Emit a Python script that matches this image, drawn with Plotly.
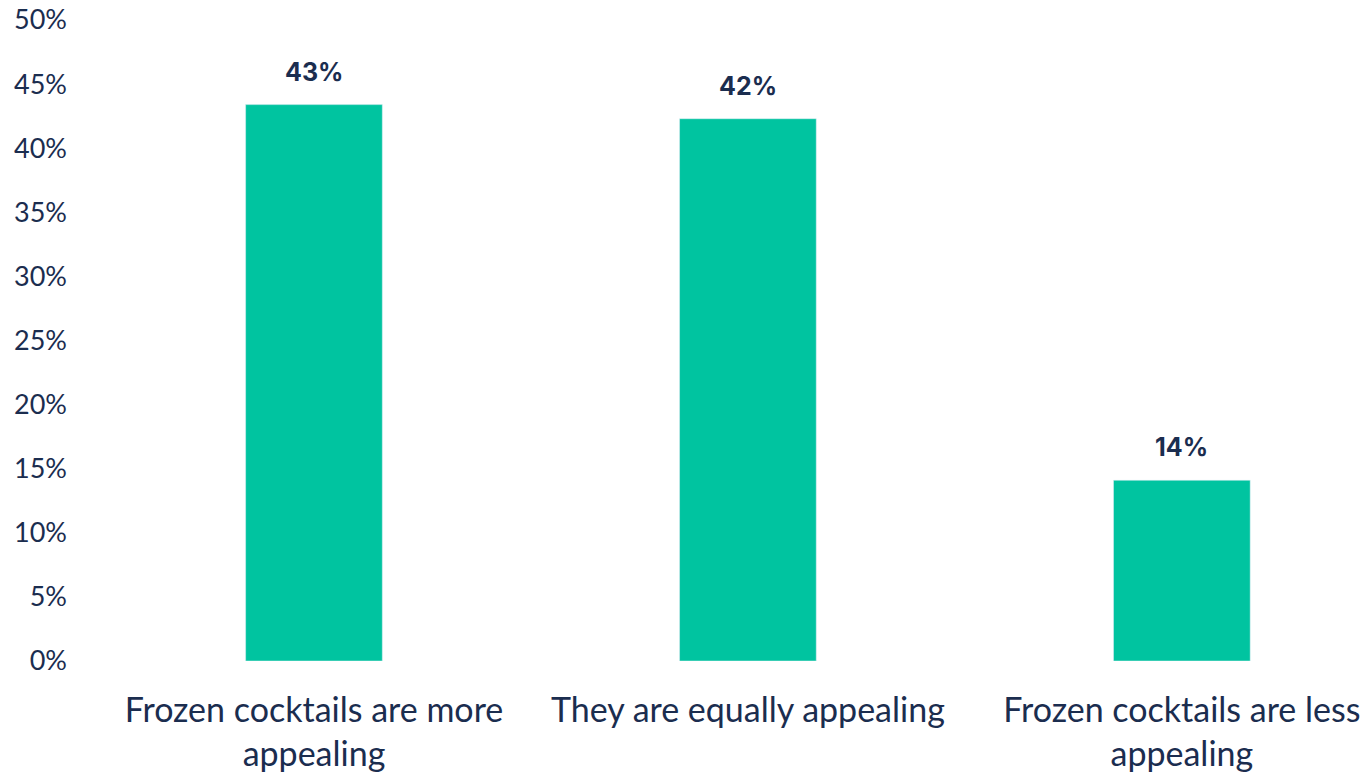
import plotly.graph_objects as go

categories = ["Frozen cocktails are more<br>appealing", "They are equally appealing", "Frozen cocktails are less<br>appealing"]
values = [43.4, 42.3, 14.1]
labels = ["43%", "42%", "14%"]
tick_vals = [0, 5, 10, 15, 20, 25, 30, 35, 40, 45, 50]
tick_text = [f"{v}%" for v in tick_vals]

navy = "#1b2d4f"
teal = "#00c4a0"

fig = go.Figure(go.Bar(x=[0, 1, 2], y=values, marker_color=teal, width=0.315, hoverinfo="skip"))

for i, (v, t) in enumerate(zip(values, labels)):
    fig.add_annotation(x=i, y=v, text=f"<b>{t}</b>", showarrow=False, yanchor="bottom", yshift=16,
                       font=dict(family="Inter", size=25, color=navy))

fig.update_layout(
    width=1368, height=774,
    margin=dict(l=97, r=0, t=20, b=113),
    paper_bgcolor="white", plot_bgcolor="white",
    showlegend=False,
    font=dict(family="Lato", color=navy),
    xaxis=dict(range=[-0.5, 2.429], tickmode="array", tickvals=[0, 1, 2], ticktext=categories,
               showgrid=False, zeroline=False, showline=False, ticklabeloverflow="allow", automargin=False,
               tickfont=dict(family="Lato", size=34, color=navy), ticklabelstandoff=26),
    yaxis=dict(range=[0, 50], tickmode="array", tickvals=tick_vals, ticktext=tick_text,
               showgrid=False, zeroline=False, showline=False, ticklabeloverflow="allow", automargin=False,
               tickfont=dict(family="Lato", size=27, color=navy), ticklabelstandoff=29),
)

fig.write_html("out.html", config={"displayModeBar": False},
               post_script="document.body.style.margin='0';document.body.style.overflow='hidden';")
